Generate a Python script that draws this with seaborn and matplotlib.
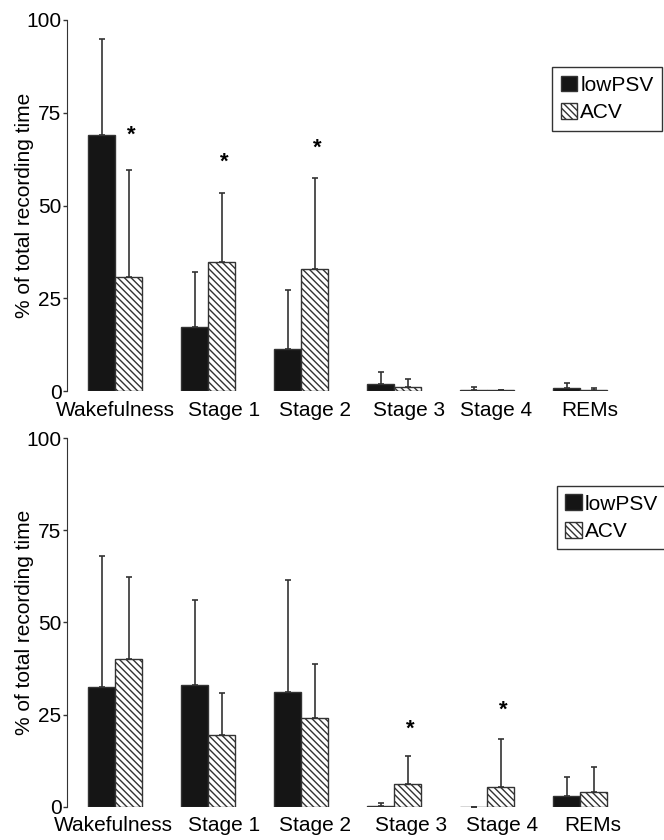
import numpy as np
import pandas as pd
import matplotlib
matplotlib.use('Agg')
import matplotlib.pyplot as plt
import seaborn as sns

# sleep stages and ventilation modes
stages = ['Wakefulness', 'Stage 1', 'Stage 2', 'Stage 3', 'Stage 4', 'REMs']
modes = ['lowPSV', 'ACV']

# top panel: mean and SD (% of total recording time)
a_lowpsv = [68.9, 17.2, 11.4, 1.8, 0.4, 0.7]
a_lowpsv_sd = [26.1, 14.8, 15.8, 3.4, 0.6, 1.5]
a_acv = [30.8, 34.7, 33.0, 1.2, 0.2, 0.3]
a_acv_sd = [28.7, 18.7, 24.3, 2.0, 0.0, 0.6]
a_stars = [69.0, 61.7, 65.5, None, None, None]

# bottom panel
b_lowpsv = [32.6, 33.0, 31.0, 0.3, 0.0, 3.0]
b_lowpsv_sd = [35.5, 23.2, 30.4, 0.8, 0.0, 5.1]
b_acv = [40.0, 19.5, 24.2, 6.2, 5.2, 4.1]
b_acv_sd = [22.4, 11.4, 14.5, 7.6, 13.2, 6.8]
b_stars = [None, None, None, 21.0, 26.3, None]

# stage names in the original are not centred under the bars
a_label_shift = [0.0, 0.17, 0.15, 0.16, 0.10, 0.10]
b_label_shift = [-0.02, 0.17, 0.15, 0.18, 0.16, 0.13]

yticks = [0, 25, 50, 75, 100]

plt.rcParams['font.family'] = ['Liberation Sans', 'DejaVu Sans']
plt.rcParams['hatch.linewidth'] = 1.0

fig = plt.figure(figsize=(6.64, 8.4), dpi=100)
ax1 = fig.add_axes([0.101, 0.5345, 0.899, 0.4417])
ax2 = fig.add_axes([0.101, 0.0397, 0.899, 0.4385])


def panel(ax, low, low_sd, acv, acv_sd, stars, shift, anchor):
    df = pd.DataFrame({'stage': stages * 2,
                       'mode': ['lowPSV'] * len(stages) + ['ACV'] * len(stages),
                       'pct': low + acv})
    sns.barplot(data=df, x='stage', y='pct', hue='mode', order=stages,
                hue_order=modes, palette={'lowPSV': '#151515', 'ACV': 'white'},
                errorbar=None, width=0.58, gap=0, saturation=1,
                edgecolor='#333333', linewidth=1, legend=False, ax=ax)
    for p in ax.containers[1]:
        p.set_hatch('\\' * 5)

    # one-sided error bars
    for cont, vals, sd in zip(ax.containers, [low, acv], [low_sd, acv_sd]):
        xs = [p.get_x() + p.get_width() / 2 for p in cont]
        ax.errorbar(xs, vals, yerr=[np.zeros(len(sd)), sd], fmt='none',
                    ecolor='#333333', elinewidth=1.2, capsize=2.2, capthick=1.2)

    # significance marks
    for p, s in zip(ax.containers[1], stars):
        if s is not None:
            ax.text(p.get_x() + p.get_width() / 2 + 0.03, s, '*', ha='center',
                    va='center', fontsize=16, fontweight='bold')

    ax.set_xticks(np.arange(len(stages)) + np.array(shift), stages)
    ax.set_xlim(-0.516, 5.9)
    ax.set_ylim(0, 100)
    ax.set_yticks(yticks)
    ax.set_xlabel('')
    ax.set_ylabel('% of total recording time', fontsize=15)
    ax.yaxis.set_label_coords(-0.055, 0.5)
    for s in ['top', 'right', 'bottom']:
        ax.spines[s].set_visible(False)
    ax.spines['left'].set_color('#333333')
    ax.tick_params(axis='y', length=3, width=1, pad=1, labelsize=15, color='#333333')
    ax.tick_params(axis='x', length=0, pad=7, labelsize=15)

    leg = ax.legend([ax.containers[0], ax.containers[1]], modes,
                    loc='upper right', bbox_to_anchor=anchor,
                    bbox_transform=fig.transFigure, fancybox=False,
                    edgecolor='#333333', framealpha=1, fontsize=15,
                    handlelength=0.8, handleheight=0.8, handletextpad=0.15,
                    borderpad=0.4, labelspacing=0.4, borderaxespad=0)
    leg.get_frame().set_linewidth(1)


panel(ax1, a_lowpsv, a_lowpsv_sd, a_acv, a_acv_sd, a_stars, a_label_shift, (0.997, 0.92))
panel(ax2, b_lowpsv, b_lowpsv_sd, b_acv, b_acv_sd, b_stars, b_label_shift, (1.004, 0.4214))

plt.savefig('out.png', dpi=100)
